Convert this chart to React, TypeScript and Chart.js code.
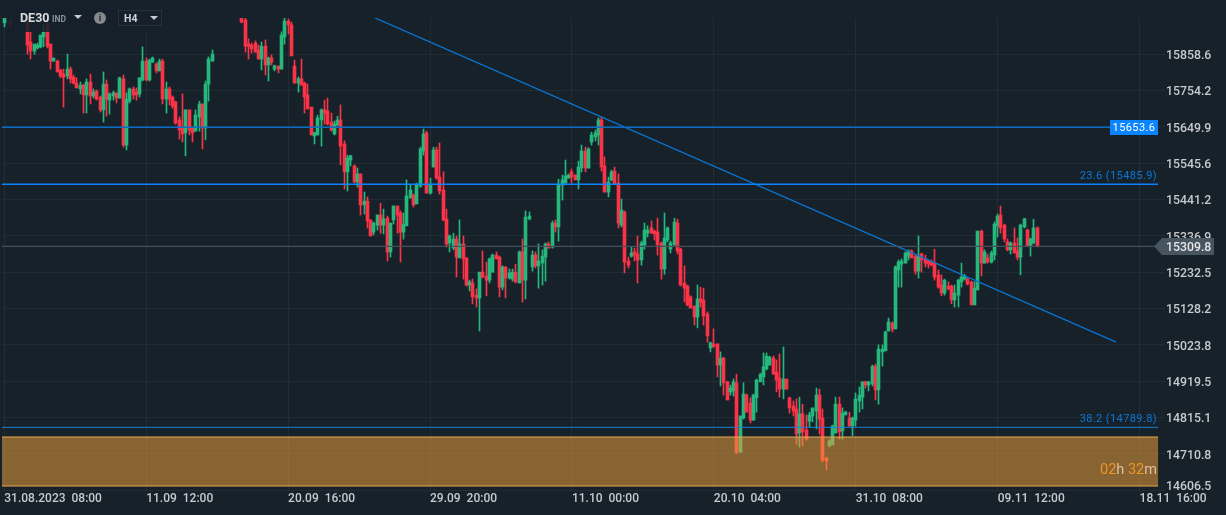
import React, { useEffect, useRef } from "react";
import Chart from "chart.js/auto";

const opens = [
15949,15990,16005,15995,15985,16000,16015,15951,15894,15868,
15877,15880,15908,15943,15888,15839,15839,15814,15802,15796,
15816,15793,15776,15759,15770,15742,15779,15739,15753,15736,
15699,15773,15727,15739,15748,15733,15788,15598,15724,15759,
15750,15745,15785,15839,15785,15836,15831,15811,15839,15730,
15759,15736,15722,15670,15647,15633,15699,15647,15638,15679,
15716,15647,15773,15839,15985,16005,15990,15975,15995,16015,
16000,15985,15970,15957,15888,15885,15891,15871,15845,15882,
15828,15848,15816,15825,15816,15908,15954,15943,15825,15776,
15788,15776,15742,15707,15624,15627,15670,15699,15696,15664,
15630,15656,15670,15601,15521,15555,15538,15492,15515,15426,
15437,15383,15348,15368,15397,15368,15388,15291,15383,15423,
15403,15348,15366,15446,15455,15429,15480,15581,15633,15460,
15535,15584,15506,15469,15386,15317,15302,15328,15274,15314,
15274,15196,15202,15167,15159,15233,15222,15210,15233,15282,
15276,15190,15248,15216,15213,15233,15202,15291,15210,15386,
15248,15282,15251,15259,15276,15314,15305,15374,15363,15483,
15489,15503,15521,15512,15498,15532,15581,15532,15607,15621,
15627,15670,15538,15463,15498,15523,15489,15368,15406,15265,
15279,15291,15285,15268,15311,15345,15360,15351,15348,15317,
15242,15325,15299,15311,15374,15299,15202,15193,15162,15136,
15104,15156,15153,15113,15015,15027,15027,14966,14986,14918,
14889,14892,14915,14716,14814,14880,14857,14808,14872,14918,
14932,14955,14966,14986,14946,14929,14897,14926,14872,14849,
14840,14771,14826,14780,14805,14820,14834,14880,14814,14699,
14734,14737,14771,14854,14777,14823,14814,14791,14808,14863,
14874,14918,14909,14912,14963,14895,15004,15007,15064,15087,
15070,15239,15256,15259,15279,15294,15279,15236,15285,15271,
15265,15262,15259,15225,15196,15173,15193,15193,15153,15167,
15205,15213,15213,15205,15139,15182,15351,15259,15274,15262,
15282,15366,15397,15368,15320,15297,15317,15294,15276,15363,
15354,15308,15317,15360,
];

const closes = [
15963,16005,15995,15985,16000,16015,15975,15885,15868,15888,
15885,15914,15923,15882,15839,15848,15808,15796,15793,15816,
15788,15776,15762,15770,15742,15779,15739,15750,15730,15699,
15773,15730,15745,15748,15733,15791,15598,15730,15759,15742,
15742,15791,15839,15785,15842,15848,15811,15839,15730,15759,
15730,15710,15661,15641,15630,15699,15641,15633,15684,15716,
15647,15773,15845,15859,16000,15990,15975,15995,16015,16000,
15985,15970,15951,15882,15882,15874,15865,15845,15882,15828,
15848,15836,15825,15816,15914,15954,15943,15854,15776,15788,
15770,15736,15702,15627,15633,15676,15699,15690,15658,15641,
15658,15670,15595,15521,15561,15567,15492,15515,15426,15437,
15380,15337,15374,15397,15368,15386,15291,15374,15423,15397,
15348,15371,15452,15469,15426,15483,15587,15630,15460,15483,
15584,15503,15466,15383,15314,15337,15328,15276,15314,15271,
15196,15205,15162,15159,15233,15219,15210,15271,15282,15271,
15190,15248,15216,15231,15233,15205,15291,15210,15391,15394,
15282,15251,15265,15279,15314,15302,15374,15363,15483,15498,
15509,15512,15506,15498,15535,15581,15532,15587,15627,15633,
15670,15535,15463,15492,15521,15486,15374,15411,15262,15253,
15288,15282,15268,15317,15354,15354,15345,15343,15311,15242,
15331,15360,15317,15377,15294,15196,15187,15139,15130,15104,
15156,15147,15107,15050,15030,15018,14966,14986,14915,14866,
14900,14918,14716,14820,14883,14831,14808,14880,14923,14940,
14961,14992,14989,14940,14923,14897,14926,14897,14843,14834,
14768,14826,14774,14754,14823,14843,14880,14811,14693,14691,
14748,14791,14854,14774,14828,14831,14791,14814,14869,14880,
14918,14909,14918,14963,14895,15012,15012,15061,15090,15070,
15248,15262,15265,15288,15294,15274,15236,15279,15268,15259,
15256,15253,15219,15190,15173,15210,15185,15153,15173,15210,
15219,15222,15199,15139,15187,15351,15259,15291,15262,15288,
15371,15394,15360,15328,15297,15317,15288,15276,15368,15386,
15308,15328,15360,15308,
];

const highs = [
15966,16012,16010,16000,16005,16020,16025,15966,15923,15888,
15891,15914,15943,15965,15888,15848,15842,15814,15816,15859,
15822,15799,15791,15779,15773,15788,15802,15759,15756,15739,
15808,15785,15748,15753,15748,15793,15799,15748,15762,15765,
15762,15791,15880,15848,15845,15851,15834,15845,15845,15779,
15765,15739,15724,15679,15745,15699,15699,15650,15699,15724,
15716,15782,15851,15871,16010,16010,15995,16000,16025,16020,
16005,15990,15972,15975,15903,15891,15897,15885,15894,15900,
15851,15857,15828,15825,15923,15965,15960,15951,15842,15793,
15845,15779,15773,15707,15635,15684,15702,15727,15733,15690,
15667,15681,15713,15610,15569,15569,15541,15532,15515,15463,
15449,15383,15377,15397,15431,15414,15394,15374,15423,15423,
15409,15403,15498,15483,15457,15489,15592,15644,15638,15503,
15592,15592,15604,15521,15414,15340,15345,15337,15383,15337,
15274,15210,15213,15185,15233,15294,15262,15274,15285,15291,
15279,15251,15248,15242,15242,15256,15294,15328,15409,15406,
15294,15291,15314,15297,15317,15320,15380,15383,15500,15512,
15555,15515,15529,15512,15552,15598,15592,15590,15635,15641,
15676,15679,15564,15506,15526,15535,15515,15443,15409,15276,
15305,15302,15337,15322,15374,15366,15380,15354,15388,15320,
15403,15363,15322,15388,15385,15302,15251,15196,15165,15136,
15196,15190,15187,15119,15032,15070,15027,15004,14989,14920,
14909,14926,14940,14820,14915,14883,14872,14883,14926,14943,
15001,15001,14992,14992,14981,14998,15018,14926,14874,14863,
14869,14874,14854,14823,14831,14843,14900,14897,14840,14702,
14751,14794,14874,14874,14843,14834,14831,14817,14886,14903,
14918,14920,14920,14966,14969,15024,15024,15064,15101,15090,
15251,15268,15271,15291,15297,15297,15282,15337,15288,15282,
15268,15268,15299,15239,15225,15213,15205,15196,15196,15213,
15259,15227,15216,15207,15205,15351,15354,15297,15285,15294,
15377,15400,15423,15371,15328,15320,15360,15331,15371,15388,
15357,15331,15385,15363,
];

const lows = [
15937,15975,15940,15980,15978,15990,15970,15859,15845,15859,
15874,15877,15880,15877,15816,15839,15808,15791,15707,15788,
15776,15773,15762,15745,15690,15690,15716,15733,15727,15693,
15664,15681,15687,15727,15719,15733,15592,15584,15719,15730,
15727,15736,15782,15782,15782,15836,15805,15811,15716,15690,
15713,15704,15658,15615,15607,15567,15627,15607,15638,15638,
15587,15613,15724,15839,15978,15985,15970,15970,15990,15995,
15980,15966,15949,15865,15845,15862,15865,15845,15814,15799,
15782,15828,15811,15805,15816,15888,15917,15854,15776,15750,
15770,15690,15702,15627,15601,15627,15595,15658,15656,15638,
15627,15653,15541,15472,15466,15538,15489,15477,15397,15400,
15360,15337,15340,15354,15345,15343,15265,15276,15371,15345,
15262,15328,15366,15446,15420,15429,15477,15569,15460,15457,
15535,15500,15457,15380,15305,15291,15297,15219,15274,15213,
15193,15179,15142,15133,15064,15216,15165,15202,15233,15271,
15162,15182,15159,15213,15207,15202,15202,15147,15156,15383,
15236,15245,15187,15196,15207,15302,15302,15348,15322,15440,
15489,15503,15489,15498,15472,15521,15521,15532,15598,15610,
15598,15523,15463,15449,15495,15486,15360,15363,15231,15245,
15276,15265,15202,15253,15299,15334,15345,15325,15282,15213,
15227,15320,15288,15311,15285,15193,15147,15136,15130,15081,
15073,15133,15081,15032,15004,15018,14932,14906,14880,14866,
14880,14877,14711,14716,14811,14831,14800,14808,14831,14918,
14909,14952,14966,14940,14889,14874,14869,14897,14828,14820,
14739,14731,14734,14751,14788,14803,14783,14768,14688,14665,
14731,14739,14771,14754,14754,14823,14791,14763,14791,14831,
14840,14900,14892,14906,14866,14854,14963,15007,15064,15061,
15070,15190,15190,15259,15268,15274,15227,15216,15233,15248,
15245,15251,15210,15187,15165,15167,15182,15142,15133,15133,
15190,15210,15196,15139,15139,15182,15222,15259,15259,15259,
15268,15334,15345,15320,15294,15285,15288,15268,15225,15360,
15308,15279,15314,15305,
];

const yTickValues = [15858.6, 15754.2, 15649.9, 15545.6, 15441.2, 15336.9, 15232.5, 15128.2, 15023.8, 14919.5, 14815.1, 14710.8, 14606.5];
const xTickIndexes = [0, 43, 86, 129, 172, 215, 258, 301, 344];
const xTickLabels = ["31.08.2023  08:00", "11.09  12:00", "20.09  16:00", "29.09  20:00", "11.10  00:00", "20.10  04:00", "31.10  08:00", "09.11  12:00", "18.11  16:00"];

const levelStart = -0.7;
const levelEnd = 349.6;
const resistanceDrawn = 15649.3;
const fib236Drawn = 15485.3;
const lastPriceDrawn = 15307.2;
const fib382Drawn = 14787.4;
const trendX = [112.3, 336.9];
const trendY = [15963, 15032];
const zoneTop = 14760.4;
const zoneBottom = 14619.7;

const BG = "#16212a";
const UP = "#25b77c";
const DOWN = "#fb3347";
const FONT = "Roboto";

function tri(ctx: CanvasRenderingContext2D, x: number, y: number, w: number, h: number, color: string) {
  ctx.fillStyle = color;
  ctx.beginPath();
  ctx.moveTo(x, y);
  ctx.lineTo(x + w, y);
  ctx.lineTo(x + w / 2, y + h);
  ctx.closePath();
  ctx.fill();
}

const snapPlugin = {
  id: "snap",
  beforeDatasetsDraw(chart: any) {
    chart.data.datasets.forEach((d: any, i: number) => {
      if (d.type !== "bar") return;
      chart.getDatasetMeta(i).data.forEach((el: any) => {
        el.x = Math.floor(el.x) + 0.5;
      });
    });
  },
};

const zonePlugin = {
  id: "zone",
  afterDatasetsDraw(chart: any) {
    const { ctx, scales } = chart;
    const x0 = scales.x.getPixelForValue(levelStart);
    const x1 = scales.x.getPixelForValue(levelEnd);
    const y0 = Math.round(scales.y.getPixelForValue(zoneTop));
    const y1 = Math.round(scales.y.getPixelForValue(zoneBottom));
    ctx.save();
    ctx.fillStyle = "rgba(240,160,60,0.53)";
    ctx.fillRect(x0, y0, x1 - x0, y1 - y0);
    ctx.fillStyle = "#e8a850";
    ctx.fillRect(x0, y0 - 0.5, x1 - x0, 1);
    ctx.fillRect(x0, y1 - 0.5, x1 - x0, 1);
    ctx.restore();
  },
};

const overlayPlugin = {
  id: "overlay",
  afterDraw(chart: any) {
    const { ctx, scales } = chart;
    ctx.save();
    // header panel
    ctx.fillStyle = "rgba(22,33,42,0.86)";
    ctx.fillRect(8, 0, 157, 32);
    ctx.textBaseline = "middle";
    ctx.textAlign = "left";
    ctx.fillStyle = "#d9dcdf";
    ctx.font = `bold 12.5px ${FONT}`;
    ctx.fillText("DE30", 20, 18.5);
    ctx.fillStyle = "#87939b";
    ctx.font = `bold 8.5px ${FONT}`;
    ctx.fillText("IND", 52, 19.5);
    tri(ctx, 74, 15, 8, 4, "#c5cacd");
    ctx.fillStyle = "#85898c";
    ctx.beginPath();
    ctx.arc(100, 18, 6, 0, Math.PI * 2);
    ctx.fill();
    ctx.fillStyle = BG;
    ctx.font = `bold 9px ${FONT}`;
    ctx.textAlign = "center";
    ctx.fillText("i", 100, 18.5);
    ctx.strokeStyle = "#27323a";
    ctx.lineWidth = 1;
    ctx.strokeRect(118.5, 10.5, 43, 15);
    ctx.textAlign = "left";
    ctx.fillStyle = "#d0d3d6";
    ctx.font = `bold 10.5px ${FONT}`;
    ctx.fillText("H4", 124, 19);
    tri(ctx, 150, 16, 8, 4, "#c5cacd");

    // resistance tag
    ctx.fillStyle = "#0a84ff";
    ctx.fillRect(1110, 120, 48, 15);
    ctx.fillStyle = "#ffffff";
    ctx.font = `11px ${FONT}`;
    (ctx as any).letterSpacing = "0.4px";
    ctx.textAlign = "center";
    ctx.fillText("15653.6", 1134, 128);

    // fib labels
    ctx.fillStyle = "#0b78d8";
    ctx.textAlign = "right";
    ctx.font = `11px ${FONT}`;
    ctx.fillText("23.6 (15485.9)", 1157, 176.5);
    ctx.fillText("38.2 (14789.8)", 1157, 419);
    (ctx as any).letterSpacing = "0px";

    // last price tag
    ctx.fillStyle = "#465560";
    ctx.beginPath();
    ctx.moveTo(1154, 246.5);
    ctx.lineTo(1162, 238);
    ctx.lineTo(1214, 238);
    ctx.lineTo(1214, 255);
    ctx.lineTo(1162, 255);
    ctx.closePath();
    ctx.fill();
    ctx.fillStyle = "#e4e6e8";
    ctx.textAlign = "left";
    ctx.font = `500 12.3px ${FONT}`;
    ctx.fillText("15309.8", 1166, 247.5);

    // clamped bottom tick label
    ctx.fillStyle = "#c6cacd";
    ctx.fillText(String(yTickValues[yTickValues.length - 1]), 1166, scales.y.getPixelForValue(14606.5) - 3.5);

    // countdown
    ctx.font = `14.5px ${FONT}`;
    let x = 1100;
    const parts: [string, string][] = [["02", "#f09526"], ["h ", "#dcc09a"], ["32", "#f09526"], ["m", "#dcc09a"]];
    parts.forEach(([t, c]) => {
      ctx.fillStyle = c;
      ctx.fillText(t, x, 470.5);
      x += ctx.measureText(t).width;
    });
    ctx.restore();
  },
};

export default function App() {
  const ref = useRef<HTMLCanvasElement | null>(null);
  useEffect(() => {
    document.body.style.margin = "0";
    document.body.style.background = BG;
    const isUp = (i: number) => closes[i] >= opens[i];
    const colors = opens.map((_, i) => (isUp(i) ? UP : DOWN));
    const level = (y: number) => [{ x: levelStart, y }, { x: levelEnd, y }];
    const lineSet = (data: any[], color: string, width: number) => ({
      type: "line",
      data,
      borderColor: color,
      borderWidth: width,
      pointRadius: 0,
      tension: 0,
      order: 1,
    });
    const chart = new Chart(ref.current as HTMLCanvasElement, {
      type: "bar",
      data: {
        datasets: [
          {
            type: "bar",
            data: opens.map((_, i) => ({ x: i, y: [lows[i], highs[i]] })),
            backgroundColor: colors,
            barThickness: 1,
            grouped: false,
            order: 4,
          },
          {
            type: "bar",
            data: opens.map((o, i) => ({ x: i, y: [o, closes[i]] })),
            backgroundColor: colors,
            barThickness: 3,
            grouped: false,
            order: 3,
          },
          lineSet(level(resistanceDrawn), "#0b6cc4", 1.6),
          lineSet(level(fib236Drawn), "#0a84ff", 1.5),
          lineSet(level(lastPriceDrawn), "#43515c", 1.2),
          lineSet(level(fib382Drawn), "#1b80d4", 1),
          lineSet(trendX.map((x, i) => ({ x, y: trendY[i] })), "#0a74d0", 1.4),
        ],
      } as any,
      options: {
        animation: false,
        responsive: false,
        devicePixelRatio: 1,
        layout: { padding: { left: 2, top: 18, right: 0, bottom: 0 } },
        plugins: { legend: { display: false }, tooltip: { enabled: false } },
        scales: {
          x: {
            type: "linear",
            offset: false,
            min: -0.697,
            max: 351.7,
            afterBuildTicks: (s: any) => {
              s.ticks = xTickIndexes.map((value) => ({ value }));
            },
            afterFit: (s: any) => {
              s.height = 24;
              s.paddingLeft = 0;
              s.paddingRight = 0;
            },
            grid: { color: "#212c34", drawTicks: false, offset: false },
            border: { display: false },
            ticks: {
              align: "start",
              autoSkip: false,
              maxRotation: 0,
              minRotation: 0,
              padding: 1,
              color: "#c6cacd",
              font: { family: FONT, size: 12, weight: 500 },
              callback: (_v: any, i: number) => xTickLabels[i],
            },
          },
          y: {
            position: "right",
            min: 14604.5,
            max: 15962.9,
            afterBuildTicks: (s: any) => {
              s.ticks = yTickValues.map((value) => ({ value }));
            },
            afterFit: (s: any) => {
              s.width = 61;
              s.paddingTop = 0;
              s.paddingBottom = 0;
            },
            grid: { color: "#212c34", drawTicks: false },
            border: { display: false },
            ticks: {
              padding: 1,
              labelOffset: 1.5,
              color: "#c6cacd",
              font: { family: FONT, size: 12.3, weight: 500 },
              callback: (v: any) => (v === 14606.5 ? "" : String(v)),
            },
          },
        },
      } as any,
      plugins: [snapPlugin, zonePlugin, overlayPlugin],
    } as any);
    return () => chart.destroy();
  }, []);
  return (
    <div style={{ position: "fixed", left: 0, top: 0, width: 1226, height: 515, background: BG }}>
      <canvas ref={ref} width={1226} height={515} style={{ display: "block", width: 1226, height: 515 }} />
    </div>
  );
}
